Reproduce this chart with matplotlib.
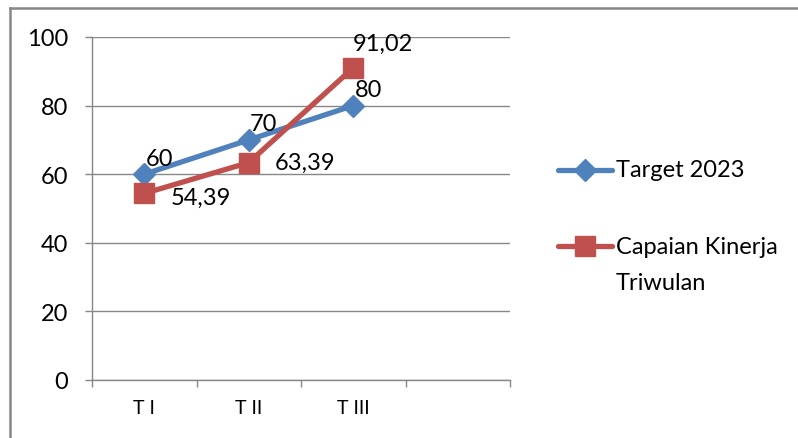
import matplotlib.pyplot as plt
from matplotlib.lines import Line2D
from matplotlib.ticker import FixedLocator

plt.rcParams['font.family'] = ['Lato', 'DejaVu Sans']

# data
categories = ['T I', 'T II', 'T III', '']
target = [60, 70, 80]
capaian = [54.39, 63.39, 91.02]
target_labels = ['60', '70', '80']
capaian_labels = ['54,39', '63,39', '91,02']

blue = '#4F81BD'
red = '#C0504D'
grid = '#878787'

fig = plt.figure(figsize=(7.98, 4.39), dpi=100)
ax = fig.add_axes([92 / 798, 1 - 381 / 439, 418 / 798, 343 / 439])

x = list(range(len(target)))
ax.plot(x, target, color=blue, lw=3.8, marker='D', markersize=11, zorder=3)
ax.plot(x, capaian, color=red, lw=3.8, marker='s', markersize=14, zorder=4)

# data labels
for i, (v, s) in enumerate(zip(target, target_labels)):
    ax.annotate(s, (i, v), xytext=(1, 4), textcoords='offset points',
                ha='left', va='bottom', fontsize=17)
cap_offsets = [(19, -3), (19, 0), (0, 10)]
for i, (v, s) in enumerate(zip(capaian, capaian_labels)):
    dx, dy = cap_offsets[i]
    ax.annotate(s, (i, v), xytext=(dx, dy), textcoords='offset points',
                ha='left', va='bottom' if dy > 5 else 'center', fontsize=17)

ax.set_xlim(-0.5, len(categories) - 0.5)
ax.set_ylim(0, 100)
ax.set_yticks(range(0, 101, 20))
ax.set_xticks(range(len(categories)))
ax.set_xticklabels(categories, fontsize=14)
ax.xaxis.set_minor_locator(FixedLocator([i - 0.5 for i in range(len(categories) + 1)]))
ax.tick_params(axis='x', which='major', length=0, pad=14)
ax.tick_params(axis='x', which='minor', length=5, color=grid, width=1)
ax.tick_params(axis='y', length=5, color=grid, width=1, labelsize=17, pad=12)
ax.grid(axis='y', color=grid, lw=1)
ax.set_axisbelow(True)
for side in ['top', 'right']:
    ax.spines[side].set_visible(False)
for side in ['left', 'bottom']:
    ax.spines[side].set_color(grid)
    ax.spines[side].set_linewidth(1)

# legend, drawn by hand to mimic the two-line label
def px(xp, yp):
    return xp / 798, 1 - yp / 439

legend_items = [(171, blue, 'D', 11, ['Target 2023']),
                (247, red, 's', 14, ['Capaian Kinerja', 'Triwulan'])]
for (yp, col, mk, ms, lines) in legend_items:
    x0, y0 = px(558, yp)
    x1, _ = px(612, yp)
    fig.add_artist(Line2D([x0, x1], [y0, y0], color=col, lw=3.8,
                          solid_capstyle='round'))
    fig.add_artist(Line2D([(x0 + x1) / 2], [y0], color=col, marker=mk,
                          markersize=ms, lw=0))
    for k, line in enumerate(lines):
        tx, ty = px(616, yp + 36 * k)
        fig.text(tx, ty, line, fontsize=17, ha='left', va='center')

# outer frame (top and left only visible)
fig.add_artist(Line2D([10 / 798, 1], [1 - 9 / 439, 1 - 9 / 439], color='#878787', lw=1.8))
fig.add_artist(Line2D([10 / 798, 10 / 798], [0, 1 - 9 / 439], color='#878787', lw=1.8))

fig.savefig('out.png', dpi=100)
